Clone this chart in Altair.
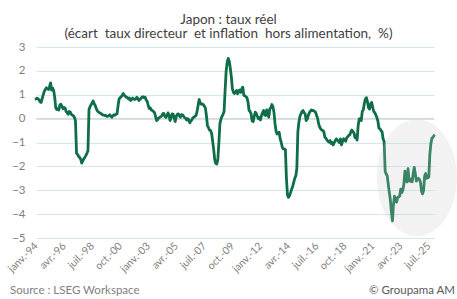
import json
import altair as alt
import pandas as pd

# Japon : taux réel (taux directeur - inflation hors alimentation), mensuel, janv. 1994 -> déc. 2025
r1994 = [0.82, 0.86, 0.83, 0.78, 0.70, 0.68, 0.85, 1.00, 1.15, 1.22, 1.29, 1.26]
r1995 = [1.22, 1.34, 1.50, 1.20, 1.28, 1.18, 0.90, 0.45, 0.38, 0.42, 0.36, 0.58]
r1996 = [0.60, 0.52, 0.42, 0.47, 0.44, 0.30, 0.25, 0.18, 0.30, 0.28, 0.18, 0.15]
r1997 = [0.12, 0.05, -0.10, -1.45, -1.50, -1.58, -1.62, -1.70, -1.86, -1.78, -1.68, -1.62]
r1998 = [-1.55, -1.45, -1.35, 0.38, 0.50, 0.58, 0.65, 0.74, 0.62, 0.55, 0.42, 0.33]
r1999 = [0.28, 0.25, 0.22, 0.20, 0.16, 0.15, 0.13, 0.14, 0.10, 0.10, 0.12, 0.16]
r2000 = [0.10, 0.06, 0.12, 0.16, 0.14, 0.18, 0.20, 0.55, 0.83, 0.88, 0.92, 0.98]
r2001 = [1.05, 0.97, 0.94, 0.90, 0.88, 0.82, 0.86, 0.76, 0.80, 0.86, 0.82, 0.80]
r2002 = [0.82, 0.90, 0.85, 0.76, 0.80, 0.85, 0.90, 0.92, 0.88, 0.90, 0.78, 0.72]
r2003 = [0.55, 0.42, 0.45, 0.36, 0.34, 0.30, 0.26, 0.10, -0.08, -0.05, 0.03, 0.05]
r2004 = [0.08, 0.12, 0.20, 0.22, 0.10, 0.05, 0.12, 0.24, 0.15, -0.08, 0.05, 0.20]
r2005 = [0.18, 0.02, -0.12, 0.10, 0.18, 0.20, 0.12, 0.06, 0.17, 0.16, 0.10, 0.04]
r2006 = [0.02, -0.06, 0.00, -0.05, -0.18, -0.10, -0.05, 0.04, 0.06, 0.10, 0.13, 0.30]
r2007 = [0.55, 0.80, 0.66, 0.60, 0.62, 0.59, 0.52, 0.45, 0.12, -0.30, -0.38, -0.48]
r2008 = [-0.50, -0.62, -0.95, -1.30, -1.72, -1.88, -1.90, -1.70, -1.00, -0.20, -0.02, 0.10]
r2009 = [0.18, 0.30, 1.20, 2.00, 2.38, 2.52, 2.40, 2.10, 1.75, 1.25, 1.10, 1.05]
r2010 = [1.12, 1.18, 1.04, 1.15, 1.20, 1.10, 1.25, 1.32, 0.98, 0.95, 0.92, 0.88]
r2011 = [0.70, 0.35, 0.30, 0.20, -0.10, -0.12, 0.10, 0.27, 0.22, 0.10, 0.00, 0.05]
r2012 = [-0.06, 0.13, 0.25, 0.34, 0.15, 0.13, 0.37, 0.20, 0.06, 0.41, 0.45, 0.59]
r2013 = [0.50, 0.27, -0.20, -0.52, -0.64, -0.60, -0.57, -0.85, -1.00, -1.20, -1.27, -1.27]
r2014 = [-1.30, -2.50, -3.20, -3.30, -3.22, -3.10, -2.95, -2.85, -2.67, -2.50, -2.40, -2.10]
r2015 = [-0.55, -0.15, 0.10, 0.20, 0.30, 0.34, 0.25, 0.20, -0.08, -0.02, 0.13, 0.25]
r2016 = [0.31, 0.36, 0.34, 0.34, 0.30, 0.27, 0.13, 0.02, -0.22, -0.35, -0.43, -0.48]
r2017 = [-0.50, -0.55, -0.78, -0.82, -0.90, -0.95, -0.98, -0.92, -1.04, -1.00, -1.10, -1.00]
r2018 = [-0.92, -0.85, -0.90, -0.95, -1.00, -0.85, -1.10, -0.95, -0.84, -0.88, -0.95, -0.80]
r2019 = [-0.76, -0.70, -0.68, -0.55, -0.48, -0.55, -0.60, -0.80, -0.72, -0.90, -0.30, -0.02]
r2020 = [0.00, -0.08, 0.30, 0.38, 0.65, 0.82, 0.88, 0.70, 0.45, 0.40, 0.62, 0.68]
r2021 = [0.48, 0.30, 0.25, 0.15, 0.05, -0.10, -0.40, -0.42, -0.50, -0.55, -0.85, -0.95]
r2022 = [-2.20, -2.32, -2.40, -2.75, -3.10, -3.40, -3.90, -4.28, -3.60, -3.25, -3.35, -3.50]
r2023 = [-3.30, -3.28, -3.24, -2.95, -3.10, -3.00, -2.75, -2.20, -2.60, -2.65, -2.10, -2.60]
r2024 = [-2.62, -2.53, -2.65, -2.30, -2.04, -2.30, -2.62, -2.53, -2.50, -2.55, -2.67, -3.05]
r2025 = [-3.15, -3.00, -2.40, -2.30, -2.50, -2.48, -2.45, -1.50, -1.05, -0.82, -0.78, -0.71]

yearly = [r1994, r1995, r1996, r1997, r1998, r1999, r2000, r2001, r2002, r2003,
          r2004, r2005, r2006, r2007, r2008, r2009, r2010, r2011, r2012, r2013,
          r2014, r2015, r2016, r2017, r2018, r2019, r2020, r2021, r2022, r2023,
          r2024, r2025]
values = [v for year in yearly for v in year]

tick_labels = ["janv.-94", "avr.-96", "juil.-98", "oct.-00", "janv.-03", "avr.-05",
               "juil.-07", "oct.-09", "janv.-12", "avr.-14", "juil.-16", "oct.-18",
               "janv.-21", "avr.-23", "juil.-25"]
tick_step = 27
y_ticks = [3, 2, 1, 0, -1, -2, -3, -4, -5]

# recent period highlighted by a translucent ellipse
highlight_month = 366.5
highlight_value = -2.48

NB = "\u00a0"
title_line1 = "Japon : taux réel"
title_line2 = f"(écart {NB}taux directeur {NB}et inflation {NB}hors alimentation, {NB}%)"
source_text = "Source : LSEG Workspace"
credit_text = "© Groupama AM"

FONT = "Lato"
LINE = "#0f6e47"

n = len(values)
df = pd.DataFrame({
    "i": list(range(n)),
    "date": pd.date_range("1994-01-01", periods=n, freq="MS"),
    "v": values,
})

label_expr = json.dumps(tick_labels) + "[round(datum.value / %d)]" % tick_step

x_scale = alt.Scale(domain=[0, n - 1], nice=False, zero=False)
y_scale = alt.Scale(domain=[-5, 3], nice=False)

x_enc = alt.X(
    "i:Q", scale=x_scale,
    axis=alt.Axis(
        values=[k * tick_step for k in range(len(tick_labels))],
        labelExpr=label_expr,
        grid=False, ticks=False, domain=False,
        labelAngle=-45, labelAlign="right", labelBaseline="middle",
        labelPadding=6, labelFont=FONT, labelFontSize=10.5,
        labelColor="#7f7f7f", labelOverlap=False, labelBound=False,
        labelFlush=False, title=None,
    ),
)
y_enc = alt.Y(
    "v:Q", scale=y_scale,
    axis=alt.Axis(
        values=y_ticks, tickCount=len(y_ticks), grid=True, gridColor="#d3e7ee",
        gridWidth=1, ticks=False, domain=False, labelPadding=11, labelFont=FONT,
        labelFontSize=11.5, labelColor="#7f7f7f", labelOverlap=False,
        labelBound=False, labelFlush=False, title=None,
    ),
)

line = alt.Chart(df).mark_line(
    color=LINE, strokeWidth=2.8, strokeJoin="round", strokeCap="round"
).encode(x=x_enc, y=y_enc)

zero = alt.Chart(pd.DataFrame({"v": [0]})).mark_rule(
    color="#d9d9d9", strokeWidth=1.3
).encode(y=y_enc)

ellipse_shape = "M -0.684,0 A 0.684,1 0 1,1 0.684,0 A 0.684,1 0 1,1 -0.684,0 Z"
ellipse = alt.Chart(
    pd.DataFrame({"i": [highlight_month], "v": [highlight_value]})
).mark_point(
    shape=ellipse_shape, filled=True, color="#cacaca", opacity=0.245,
    size=13689, strokeWidth=0,
).encode(x=x_enc, y=y_enc)


def label(text, x, y, size, color, align):
    return alt.Chart(pd.DataFrame({"t": [text]})).mark_text(
        font=FONT, fontSize=size, color=color, align=align, baseline="alphabetic",
    ).encode(text="t:N", x=alt.value(x), y=alt.value(y))


title1 = label(title_line1, 192.5, -23.5, 13.5, "#404040", "center")
title2 = label(title_line2, 192.5, -8.7, 13.5, "#404040", "center")
source = label(source_text, -26, 247, 11.5, "#808080", "left")
credit = label(credit_text, 419, 247, 11.5, "#595959", "right")

chart = alt.layer(zero, line, ellipse, title1, title2, source, credit).properties(
    width=398, height=191,
    padding={"left": 36, "top": 47, "right": 23, "bottom": 61},
    autosize=alt.AutoSizeParams(type="none"),
    background="white",
).configure_view(stroke=None).configure_axis(labelOverlap=False)

chart.save("out.html", embed_options={"renderer": "svg", "actions": False})
